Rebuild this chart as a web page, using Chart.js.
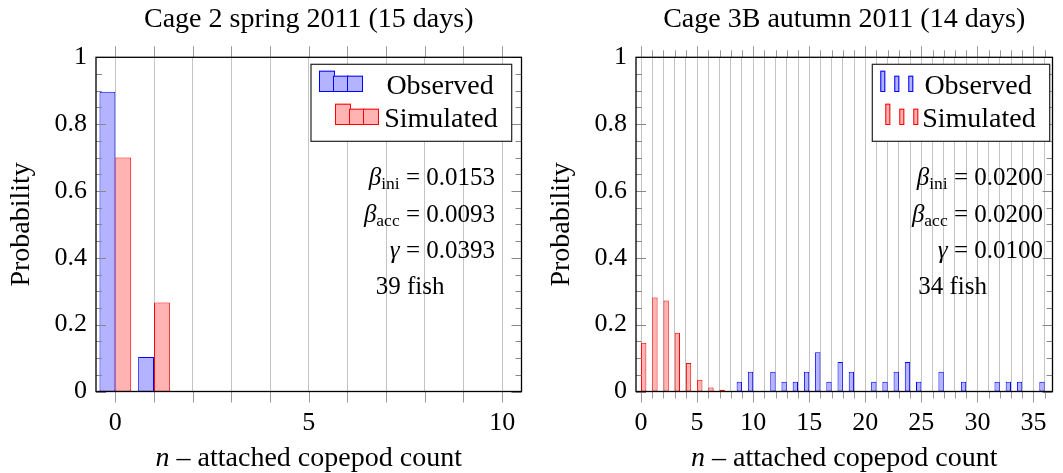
<!DOCTYPE html>
<html>
<head>
<meta charset="utf-8">
<script src="https://cdn.jsdelivr.net/npm/chart.js@4.4.1/dist/chart.umd.min.js"></script>
<style>
    html, body { margin: 0; padding: 0; background: #fff; }
    #wrap { position: relative; width: 1063px; height: 473px; }
    .pane { position: absolute; top: 0; height: 473px; }
</style>
</head>
<body>
<div id="wrap">
    <div class="pane" style="left:0;width:540px"><canvas id="leftChart"></canvas></div>
    <div class="pane" style="left:540px;width:523px"><canvas id="rightChart"></canvas></div>
</div>
<script>
// Cage 2 spring 2011
var leftCounts = [0, 1];
var leftObserved = [0.897, 0.103];
var leftSimulated = [0.700, 0.266];
var leftParams = ['0.0153', '0.0093', '0.0393'];
var leftFish = '39 fish';

// Cage 3B autumn 2011
var rightCounts = [0, 1, 2, 3, 4, 5, 6, 7, 8, 9, 10, 11, 12, 13, 14, 15, 16, 17, 18,
    19, 20, 21, 22, 23, 24, 25, 26, 27, 28, 29, 30, 31, 32, 33, 34, 35, 36];
var rightObserved = [0, 0, 0, 0, 0, 0, 0, 0, 0, 0.0294, 0.0588, 0, 0.0588, 0.0294, 0.0294, 0.0588, 0.1176, 0.0294, 0.0882,
    0.0588, 0, 0.0294, 0.0294, 0.0588, 0.0882, 0.0294, 0, 0.0588, 0, 0.0294, 0, 0, 0.0294, 0.0294, 0.0294, 0, 0.0294];
var rightSimulated = [0.146, 0.281, 0.272, 0.176, 0.085, 0.035, 0.012, 0.005, 0.001, 0, 0, 0, 0, 0, 0, 0, 0, 0, 0,
    0, 0, 0, 0, 0, 0, 0, 0, 0, 0, 0, 0, 0, 0, 0, 0, 0, 0];
var rightParams = ['0.0200', '0.0200', '0.0100'];
var rightFish = '34 fish';

var leftXLabels = [0, 5, 10];
var rightXLabels = [0, 5, 10, 15, 20, 25, 30, 35];
var yLabels = [0, 0.2, 0.4, 0.6, 0.8, 1];

var SERIF = '"Liberation Serif", "Times New Roman", serif';
var BLUE = '#0000ff', BLUE_FILL = '#b3b3ff';
var RED = '#ff0000', RED_FILL = '#ffb3b3';

function font(size, style) {
    return (style ? style + ' ' : '') + size + 'px ' + SERIF;
}

// draws pieces of text (with subscripts) ending at xRight
function drawPieces(ctx, pieces, xRight, y) {
    var total = 0;
    pieces.forEach(function (p) { ctx.font = p.font; total += ctx.measureText(p.text).width; });
    var x = xRight - total;
    ctx.textAlign = 'left';
    ctx.textBaseline = 'alphabetic';
    pieces.forEach(function (p) {
        ctx.font = p.font;
        ctx.fillText(p.text, x, y + (p.dy || 0));
        x += ctx.measureText(p.text).width;
    });
}

function line(ctx, x1, y1, x2, y2) {
    ctx.beginPath();
    ctx.moveTo(x1, y1);
    ctx.lineTo(x2, y2);
    ctx.stroke();
}

function decorPlugin(c) {
    return {
        id: 'decor',
        afterDatasetsDraw: function (chart) {
            var ctx = chart.ctx;
            var a = chart.chartArea;
            var xs = chart.scales.x, ys = chart.scales.y;
            var v, i, px, py, len;
            ctx.save();

            // tick marks outside the frame, top and bottom
            ctx.strokeStyle = '#999';
            ctx.lineWidth = 1;
            for (v = Math.ceil(xs.min); v <= xs.max; v++) {
                px = Math.round(xs.getPixelForValue(v)) + 0.5;
                len = v % 5 === 0 ? 11 : c.minorTick;
                line(ctx, px, a.top - len, px, a.top);
                line(ctx, px, a.bottom, px, a.bottom + len);
            }
            // y ticks inside, left and right
            ctx.strokeStyle = '#888';
            for (i = 0; i <= 20; i++) {
                py = Math.round(ys.getPixelForValue(i * 0.05)) + 0.5;
                len = i % 4 === 0 ? 10 : 6;
                line(ctx, a.left, py, a.left + len, py);
                line(ctx, a.right - len, py, a.right, py);
            }

            ctx.strokeStyle = '#000';
            ctx.lineWidth = 1.3;
            ctx.strokeRect(a.left, a.top, a.right - a.left, a.bottom - a.top);

            // legend
            var bx = a.right - c.legRight - c.legW, by = a.top + 7;
            ctx.fillStyle = '#fff';
            ctx.fillRect(bx, by, c.legW, 77);
            ctx.strokeStyle = '#222';
            ctx.lineWidth = 1.2;
            ctx.strokeRect(bx, by, c.legW, 77);
            ctx.lineWidth = 1;
            [[BLUE, BLUE_FILL, 0, 27.7], [RED, RED_FILL, c.barW, 60.7]].forEach(function (s) {
                for (var k = 0; k < 3; k++) {
                    var h = k === 0 ? 21.3 : 16.3;
                    var rx = bx + 8 + k * 14 + s[2];
                    var ry = by + s[3] - h;
                    ctx.fillStyle = s[1];
                    ctx.fillRect(rx, ry, c.barW, h);
                    ctx.strokeStyle = s[0];
                    ctx.strokeRect(rx + 0.5, ry + 0.5, c.barW - 1, h - 1);
                }
            });
            ctx.fillStyle = '#000';
            ctx.font = font(28);
            ctx.textAlign = 'right';
            ctx.textBaseline = 'alphabetic';
            ctx.fillText('Observed', bx + c.legW - 18, by + 29.7);
            ctx.fillText('Simulated', bx + c.legW - 14, by + 62.5);

            // parameter notes
            var xr = a.right - c.noteRight;
            drawPieces(ctx, [{ text: '\u03b2', font: font(25, 'italic') }, { text: 'ini', font: font(17.5), dy: 3.5 },
                { text: ' = ' + c.params[0], font: font(25) }], xr, a.top + 127.7);
            drawPieces(ctx, [{ text: '\u03b2', font: font(25, 'italic') }, { text: 'acc', font: font(17.5), dy: 3.5 },
                { text: ' = ' + c.params[1], font: font(25) }], xr, a.top + 164.7);
            drawPieces(ctx, [{ text: '\u03b3', font: font(25, 'italic') },
                { text: ' = ' + c.params[2], font: font(25) }], xr, a.top + 200.7);
            ctx.font = font(25);
            ctx.textAlign = 'center';
            ctx.fillText(c.fish, a.right - c.fishRight, a.top + 236.7);

            // chart title and x title
            var cx = (a.left + a.right) / 2;
            ctx.font = font(28);
            ctx.fillText(c.title, cx, 27);
            ctx.font = font(28, 'italic');
            var nW = ctx.measureText('n').width;
            ctx.font = font(28);
            var rest = ' \u2013 attached copepod count';
            var rW = ctx.measureText(rest).width;
            ctx.textAlign = 'left';
            ctx.fillText(rest, cx - (nW + rW) / 2 + nW, 466);
            ctx.font = font(28, 'italic');
            ctx.fillText('n', cx - (nW + rW) / 2, 466);
            ctx.restore();
        }
    };
}

function makeChart(id, c) {
    var ctx = document.getElementById(id).getContext('2d');
    return new Chart(ctx, {
        type: 'bar',
        data: {
            datasets: [{
                label: 'Observed',
                data: c.counts.map(function (n, i) { return { x: n, y: c.observed[i] }; }),
                backgroundColor: BLUE_FILL,
                borderColor: BLUE,
                borderWidth: 1,
                borderSkipped: false,
                categoryPercentage: c.catPct,
                barPercentage: 1
            }, {
                label: 'Simulated',
                data: c.counts.map(function (n, i) { return { x: n, y: c.simulated[i] }; }),
                backgroundColor: RED_FILL,
                borderColor: RED,
                borderWidth: 1,
                borderSkipped: false,
                categoryPercentage: c.catPct,
                barPercentage: 1
            }]
        },
        options: {
            responsive: true,
            maintainAspectRatio: false,
            animation: false,
            layout: { padding: { left: 2, right: c.padRight, top: 57.3, bottom: 0 } },
            plugins: { legend: { display: false }, tooltip: { enabled: false } },
            scales: {
                x: {
                    type: 'linear',
                    min: c.xMin,
                    max: c.xMax,
                    offset: false,
                    afterBuildTicks: function (s) {
                        var t = [];
                        for (var v = Math.ceil(s.min); v <= s.max; v++) t.push({ value: v });
                        s.ticks = t;
                    },
                    ticks: {
                        autoSkip: false,
                        maxRotation: 0,
                        padding: 16,
                        color: '#000',
                        font: { family: SERIF, size: 26 },
                        callback: function (v) { return c.xLabels.indexOf(v) >= 0 ? String(v) : ''; }
                    },
                    grid: { color: '#c4c4c4', lineWidth: 1, drawTicks: false, offset: false },
                    border: { display: false },
                    afterFit: function (s) { s.height = 473 - 391.5; }
                },
                y: {
                    min: 0,
                    max: 1,
                    afterBuildTicks: function (s) {
                        s.ticks = yLabels.map(function (v) { return { value: v }; });
                    },
                    ticks: {
                        padding: 9,
                        color: '#000',
                        font: { family: SERIF, size: 26 },
                        callback: function (v) { return String(v); }
                    },
                    grid: { display: false, drawTicks: false },
                    border: { display: false },
                    title: {
                        display: true,
                        text: 'Probability',
                        color: '#000',
                        font: { family: SERIF, size: 28 },
                        padding: { top: 3, bottom: 0 }
                    },
                    afterFit: function (s) { s.width = 94; }
                }
            }
        },
        plugins: [decorPlugin(c)]
    });
}

makeChart('leftChart', {
    counts: leftCounts, observed: leftObserved, simulated: leftSimulated,
    xLabels: leftXLabels, xMin: -0.5, xMax: 10.5, catPct: 0.82, padRight: 18.5,
    title: 'Cage 2 spring 2011 (15 days)', params: leftParams, fish: leftFish,
    minorTick: 11, legRight: 9.8, legW: 200.7, barW: 16, noteRight: 26.5, fishRight: 111.5
});

makeChart('rightChart', {
    counts: rightCounts, observed: rightObserved, simulated: rightSimulated,
    xLabels: rightXLabels, xMin: -0.45, xMax: 36.7, catPct: 0.95, padRight: 10.5,
    title: 'Cage 3B autumn 2011 (14 days)', params: rightParams, fish: rightFish,
    minorTick: 7, legRight: 2.8, legW: 177.4, barW: 5, noteRight: 9.5, fishRight: 100
});
</script>
</body>
</html>
